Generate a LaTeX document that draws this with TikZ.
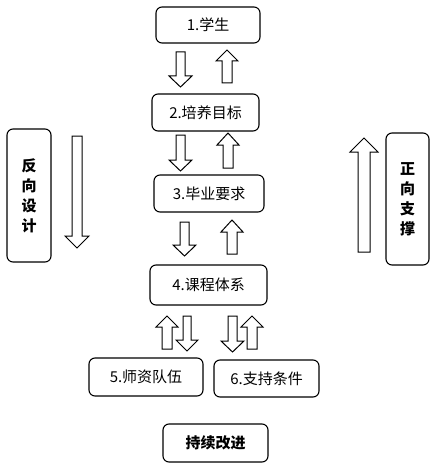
\documentclass[tikz,border=0pt]{standalone}
\usepackage{fontspec}
\newfontfamily\cjk{Noto Sans CJK SC}
\begin{document}
\begin{tikzpicture}[x=1pt,y=-1pt,
  box/.style={draw=black, line width=1.1pt, rounded corners=6pt, fill=white, inner sep=0pt, font=\cjk\fontsize{15}{16}\selectfont},
  side/.style={box, align=center, font=\cjk\bfseries\fontsize{15}{20}\selectfont},
  blk/.style={draw=black, line width=1pt, fill=white, line join=miter}]
\useasboundingbox (0,0) rectangle (436,468);
% down arrow: x1, x2, top, tip, head extend, head length
\newcommand{\downblk}[6]{\draw[blk] (#1,#3) -- (#2,#3) -- (#2,{#4-#6}) -- ({#2+#5},{#4-#6}) -- ({(#1+#2)/2},#4) -- ({#1-#5},{#4-#6}) -- (#1,{#4-#6}) -- cycle;}
% up arrow: x1, x2, tip, bottom, head extend, head length
\newcommand{\upblk}[6]{\draw[blk] (#1,#4) -- (#2,#4) -- (#2,{#3+#6}) -- ({#2+#5},{#3+#6}) -- ({(#1+#2)/2},#3) -- ({#1-#5},{#3+#6}) -- (#1,{#3+#6}) -- cycle;}

\node[box, minimum width=104pt, minimum height=36pt] (n1) at (208,25) {1.学生};
\node[box, minimum width=107pt, minimum height=37pt] (n2) at (205.5,112.5) {2.培养目标};
\node[box, minimum width=110pt, minimum height=37pt] (n3) at (209,193.5) {3.毕业要求};
\node[box, minimum width=117pt, minimum height=40pt] (n4) at (208.5,285) {4.课程体系};
\node[box, minimum width=114pt, minimum height=38pt] (n5) at (146,377) {5.师资队伍};
\node[box, minimum width=105pt, minimum height=37pt] (n6) at (266.5,378.5) {6.支持条件};
\node[box, minimum width=105pt, minimum height=38pt, font=\cjk\bfseries\fontsize{15}{16}\selectfont] (n7) at (215.5,443) {持续改进};
\node[side, minimum width=44pt, minimum height=133pt] (lft) at (29,195.5) {反\\向\\设\\计};
\node[side, minimum width=43pt, minimum height=132pt] (rgt) at (407.5,199) {正\\向\\支\\撑};

\downblk{176}{185}{52}{87}{7}{11}
\upblk{222}{232}{50}{83}{6}{11}
\downblk{176}{185}{135}{171}{7}{11}
\upblk{223}{233}{133}{168}{6}{12}
\downblk{180}{189}{222}{256}{7}{11}
\upblk{227}{237}{220}{254}{6}{12}
\upblk{162}{172}{316}{349}{6}{11}
\downblk{183}{191}{316}{351}{7}{11}
\downblk{228}{237}{316}{352}{7}{11}
\upblk{247}{257}{316}{349}{6}{11}
\downblk{72}{82}{136}{248}{7}{12}
\upblk{358}{370}{138}{252}{8}{14}
\end{tikzpicture}
\end{document}
